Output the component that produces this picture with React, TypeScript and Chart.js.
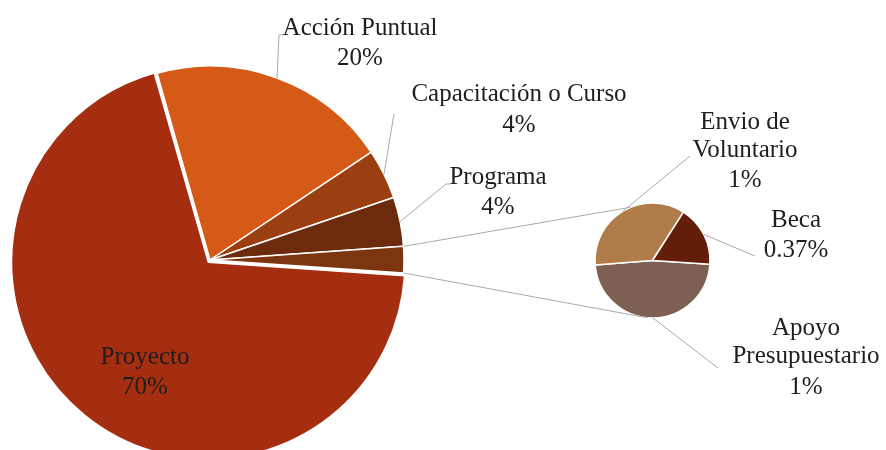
import React, { useEffect, useRef } from "react";
import { Chart, registerables } from "chart.js";

Chart.register(...registerables);

// ---- data ----
const mainCategories = ["Acción Puntual", "Capacitación o Curso", "Programa", "Otros", "Proyecto"];
const mainValues = [20.0, 4.15, 4.1, 69.5]; // Acción, Capacitación, Programa, Proyecto
const mainPercentLabels = ["20%", "4%", "4%", "", "70%"];

const subCategories = ["Apoyo Presupuestario", "Envio de Voluntario", "Beca"];
const subValues = [1.04, 0.77, 0.37];
const subPercentLabels = ["1%", "1%", "0.37%"];

const otherTotal = subValues.reduce((a, b) => a + b, 0);
const mainData = [mainValues[0], mainValues[1], mainValues[2], otherTotal, mainValues[3]];

const mainColors = ["#D55A17", "#9C3F10", "#6B2B0C", "#7D350F", "#A52E10"];
const subColors = ["#7E6052", "#B07D4A", "#631E0A"];

const FONT = '25px "Liberation Serif", serif';
const TEXT = "#1e1e1e";
const LEAD = "#a8a8a8";

type Pt = [number, number];
interface LabelLayout {
  x: number;
  ys: number[];
  wrapAfter?: number; // number of words on first line
  via?: Pt[]; // leader line points after arc edge point
}

const mainLayout: (LabelLayout | null)[] = [
  { x: 360, ys: [28, 58], via: [[279, 35], [283, 35]] },
  { x: 519, ys: [94, 125], via: [[394, 114]] },
  { x: 498, ys: [177, 207], via: [[446, 184], [450, 184]] },
  null,
  { x: 145, ys: [357, 387] },
];
const subLayout: LabelLayout[] = [
  { x: 806, ys: [328, 356, 387], wrapAfter: 1, via: [[718, 368]] },
  { x: 745, ys: [122, 150, 180], wrapAfter: 2, via: [[690, 156]] },
  { x: 796, ys: [220, 250], via: [[755, 256]] },
];

function arcProps(el: any) {
  return el.getProps(["x", "y", "startAngle", "endAngle", "outerRadius"], true);
}
function edge(el: any, angle?: number): Pt {
  const p = arcProps(el);
  const a = angle === undefined ? (p.startAngle + p.endAngle) / 2 : angle;
  return [p.x + Math.cos(a) * p.outerRadius, p.y + Math.sin(a) * p.outerRadius];
}

function splitLines(name: string, wrapAfter?: number): string[] {
  if (!wrapAfter) return [name];
  const w = name.split(" ");
  return [w.slice(0, wrapAfter).join(" "), w.slice(wrapAfter).join(" ")];
}

export default function App() {
  const mainRef = useRef<HTMLCanvasElement>(null);
  const subRef = useRef<HTMLCanvasElement>(null);

  useEffect(() => {
    document.body.style.margin = "0";
    const main = new Chart(mainRef.current!, {
      type: "pie",
      data: {
        labels: mainCategories,
        datasets: [
          {
            data: mainData,
            backgroundColor: mainColors,
            borderColor: "#ffffff",
            borderWidth: 1.5,
            offset: [0, 0, 0, 0, 11],
            clip: false,
          } as any,
        ],
      },
      options: {
        animation: false,
        responsive: false,
        events: [],
        radius: 194,
        rotation: -15.8,
        layout: { padding: { left: 0, right: 466, top: 70, bottom: 0 } },
        plugins: { legend: { display: false }, tooltip: { enabled: false } },
      } as any,
    });

    const labelsPlugin = {
      id: "pieOfPieLabels",
      afterDraw(chart: any) {
        const ctx: CanvasRenderingContext2D = chart.ctx;
        const mArcs = main.getDatasetMeta(0).data;
        const sArcs = chart.getDatasetMeta(0).data;
        ctx.save();
        // connector lines between the "other" slice and the secondary pie
        const other = arcProps(mArcs[3]);
        const s0 = arcProps(sArcs[0]);
        const deg = Math.PI / 180;
        const topEnd: Pt = [s0.x + Math.cos(-112 * deg) * s0.outerRadius, s0.y + Math.sin(-112 * deg) * s0.outerRadius];
        const botEnd: Pt = [s0.x + Math.cos(95 * deg) * s0.outerRadius, s0.y + Math.sin(95 * deg) * s0.outerRadius];
        const a1 = edge(mArcs[3], other.startAngle);
        const a2 = edge(mArcs[3], other.endAngle);
        ctx.strokeStyle = LEAD;
        ctx.lineWidth = 1;
        ctx.beginPath();
        ctx.moveTo(a1[0], a1[1]);
        ctx.lineTo(topEnd[0], topEnd[1]);
        ctx.moveTo(a2[0], a2[1]);
        ctx.lineTo(botEnd[0], botEnd[1]);
        ctx.stroke();

        const drawLabel = (el: any, lay: LabelLayout, name: string, pct: string) => {
          if (lay.via) {
            const p = edge(el);
            ctx.strokeStyle = LEAD;
            ctx.lineWidth = 1;
            ctx.beginPath();
            ctx.moveTo(p[0], p[1]);
            lay.via.forEach((v) => ctx.lineTo(v[0], v[1]));
            ctx.stroke();
          }
          const lines = [...splitLines(name, lay.wrapAfter), pct];
          ctx.fillStyle = TEXT;
          ctx.font = FONT;
          ctx.textAlign = "center";
          ctx.textBaseline = "middle";
          lines.forEach((t, i) => ctx.fillText(t, lay.x, lay.ys[i]));
        };
        mainLayout.forEach((lay, i) => {
          if (lay) drawLabel(mArcs[i], lay, mainCategories[i], mainPercentLabels[i]);
        });
        subLayout.forEach((lay, i) => drawLabel(sArcs[i], lay, subCategories[i], subPercentLabels[i]));
        ctx.restore();
      },
    };

    const sub = new Chart(subRef.current!, {
      type: "pie",
      data: {
        labels: subCategories,
        datasets: [
          {
            data: subValues,
            backgroundColor: subColors,
            borderColor: "#ffffff",
            borderWidth: 1.5,
            clip: false,
          } as any,
        ],
      },
      options: {
        animation: false,
        responsive: false,
        events: [],
        radius: 57.5,
        rotation: 93.7,
        layout: { padding: { left: 552.5, right: 133.5, top: 160.5, bottom: 89.5 } },
        plugins: { legend: { display: false }, tooltip: { enabled: false } },
      } as any,
      plugins: [labelsPlugin],
    });

    return () => {
      sub.destroy();
      main.destroy();
    };
  }, []);

  const canvasStyle: React.CSSProperties = { position: "absolute", left: 0, top: 0, width: 886, height: 450 };
  return (
    <div style={{ position: "fixed", left: 0, top: 0, width: 886, height: 450, overflow: "hidden", background: "#fff" }}>
      <canvas ref={mainRef} width={886} height={450} style={canvasStyle} />
      <canvas ref={subRef} width={886} height={450} style={canvasStyle} />
    </div>
  );
}
